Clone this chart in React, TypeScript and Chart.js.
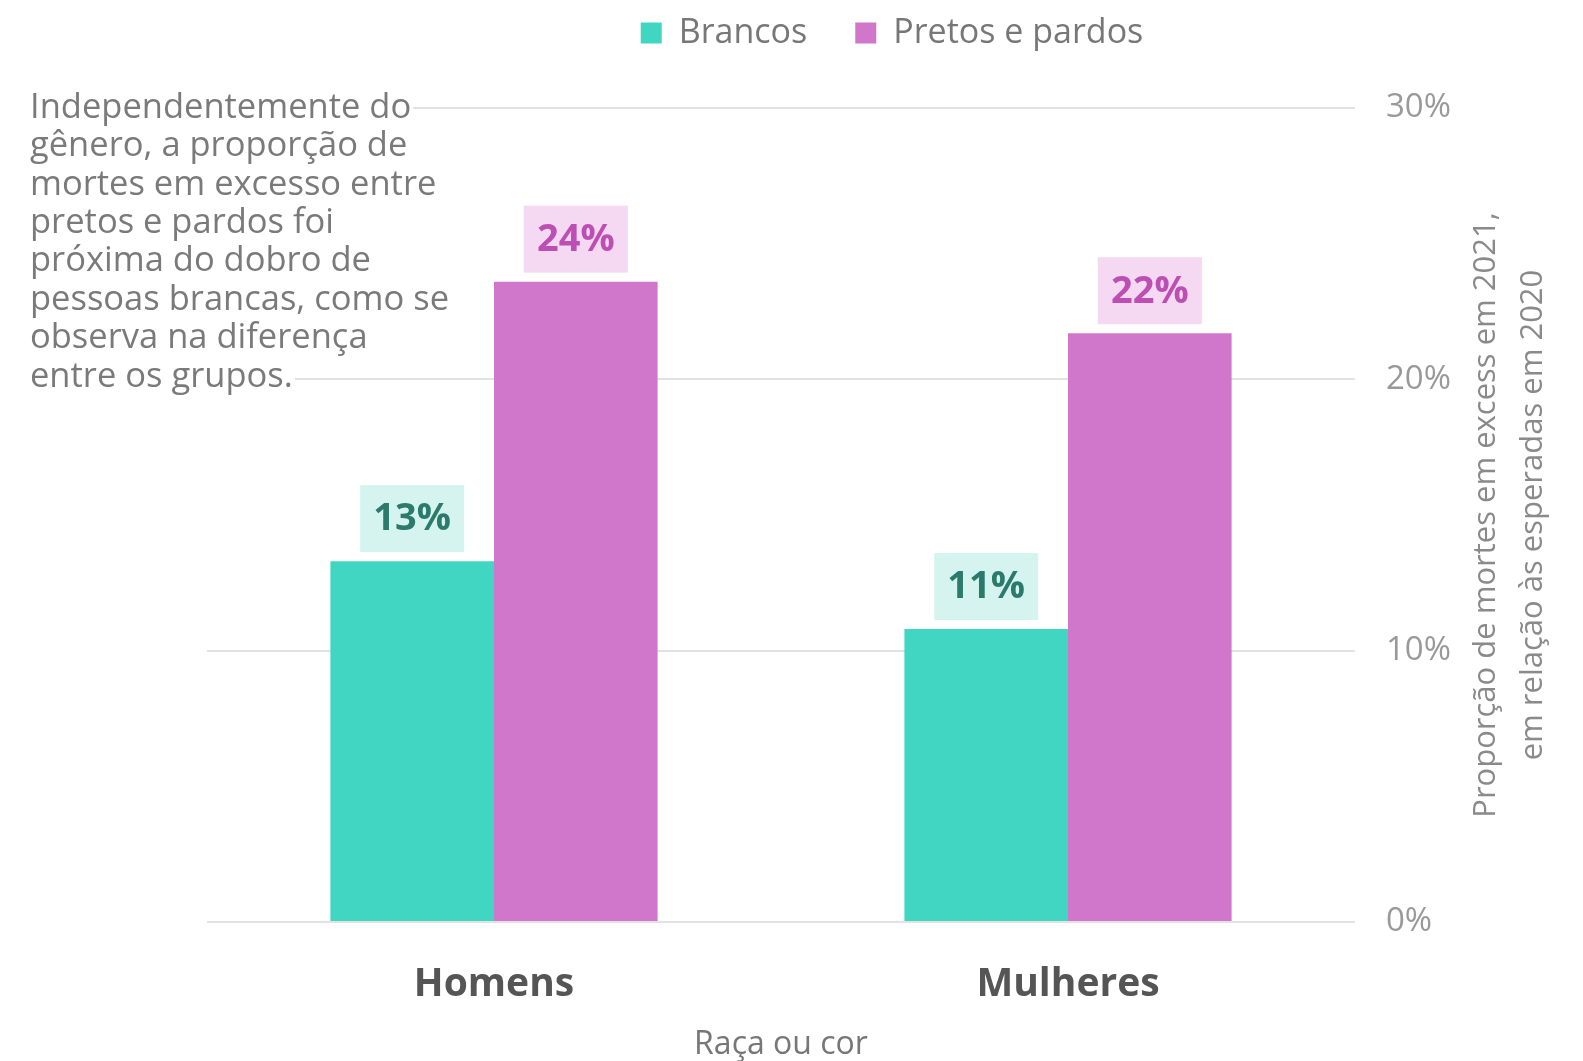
import React, { useEffect, useRef } from "react";
import { Chart, registerables } from "chart.js";

Chart.register(...registerables);

const categories = ["Homens", "Mulheres"];
const seriesNames = ["Brancos", "Pretos e pardos"];
const brancos = [13.3, 10.8];
const pretos = [23.6, 21.7];
const yTickValues = [0, 10, 20, 30];
const annotationLines = [
  "Independentemente do",
  "gênero, a proporção de",
  "mortes em excesso entre",
  "pretos e pardos foi",
  "próxima do dobro de",
  "pessoas brancas, como se",
  "observa na diferença",
  "entre os grupos.",
];
const yTitleLines = [
  "Proporção de mortes em excess em 2021,",
  "em relação às esperadas em 2020",
];
const xTitle = "Raça ou cor";

const W = 1583;
const H = 1061;
const FONT = "'Open Sans', Lato, sans-serif";
const TEAL = "#41D6C1";
const PURPLE = "#D077CB";
const labelStyles = [
  { bg: "#D5F4EF", fg: "#2B7A6B" },
  { bg: "#F5D8F1", fg: "#BD4FB4" },
];

const legendGapPlugin = {
  id: "legendGap",
  beforeInit(chart: any) {
    const lg = chart.legend;
    if (!lg) return;
    const fit = lg.fit.bind(lg);
    lg.fit = () => {
      fit();
      lg.height += 48;
    };
  },
};

const barLabelPlugin = {
  id: "barLabels",
  afterDatasetsDraw(chart: any) {
    const ctx = chart.ctx;
    chart.data.datasets.forEach((ds: any, di: number) => {
      const meta = chart.getDatasetMeta(di);
      meta.data.forEach((el: any, i: number) => {
        const v = ds.data[i];
        const txt = Math.round(v) + "%";
        const w = 104;
        const h = 67;
        const bottom = el.y - 9;
        ctx.save();
        ctx.fillStyle = labelStyles[di].bg;
        ctx.fillRect(el.x - w / 2, bottom - h, w, h);
        ctx.fillStyle = labelStyles[di].fg;
        ctx.font = `bold 38px ${FONT}`;
        ctx.textAlign = "center";
        ctx.textBaseline = "middle";
        ctx.fillText(txt, el.x, bottom - h / 2 + 1);
        ctx.restore();
      });
    });
  },
};

const annotationPlugin = {
  id: "annotationText",
  afterDraw(chart: any) {
    const ctx = chart.ctx;
    const top = chart.chartArea.top;
    ctx.save();
    ctx.font = `34.5px ${FONT}`;
    ctx.textBaseline = "middle";
    ctx.textAlign = "left";
    annotationLines.forEach((line, i) => {
      const y = top + i * 38.4;
      const w = ctx.measureText(line).width;
      ctx.fillStyle = "#ffffff";
      ctx.fillRect(28, y - 18, w + 4, 36);
      ctx.fillStyle = "#7a7a7a";
      ctx.fillText(line, 30, y);
    });
    ctx.restore();
  },
};

const yTitlePlugin = {
  id: "yTitle",
  afterDraw(chart: any) {
    const ctx = chart.ctx;
    const { right, top, bottom } = chart.chartArea;
    const cy = (top + bottom) / 2;
    ctx.save();
    ctx.font = `31px ${FONT}`;
    ctx.fillStyle = "#8a8a8a";
    ctx.textAlign = "center";
    ctx.textBaseline = "middle";
    yTitleLines.forEach((line, i) => {
      ctx.save();
      ctx.translate(right + 131 + i * 47, cy);
      ctx.rotate(-Math.PI / 2);
      ctx.fillText(line, 0, 0);
      ctx.restore();
    });
    ctx.restore();
  },
};

export default function App() {
  const ref = useRef<HTMLCanvasElement>(null);
  useEffect(() => {
    if (!ref.current) return;
    const chart = new Chart(ref.current, {
      type: "bar",
      data: {
        labels: categories,
        datasets: [
          {
            label: seriesNames[0],
            data: brancos,
            backgroundColor: TEAL,
            categoryPercentage: 0.57,
            barPercentage: 1.0,
          },
          {
            label: seriesNames[1],
            data: pretos,
            backgroundColor: PURPLE,
            categoryPercentage: 0.57,
            barPercentage: 1.0,
          },
        ],
      },
      options: {
        responsive: false,
        maintainAspectRatio: false,
        devicePixelRatio: 1,
        animation: false,
        layout: { padding: { left: 207, right: 6, top: -32, bottom: 0 } },
        plugins: {
          legend: {
            position: "top",
            labels: {
              color: "#777",
              font: { family: FONT, size: 34 },
              boxWidth: 21,
              boxHeight: 21,
              padding: 48,
            },
          },
          tooltip: { enabled: false },
        },
        scales: {
          x: {
            grid: { display: false },
            border: { display: false },
            ticks: {
              color: "#555",
              font: { family: FONT, size: 39, weight: "bold" },
              padding: 31,
            },
            title: {
              display: true,
              text: xTitle,
              color: "#777",
              font: { family: FONT, size: 32, lineHeight: 1.0 },
              padding: { top: 0, bottom: 0 },
            },
            afterFit: (s: any) => {
              s.height = 139;
            },
          },
          y: {
            position: "right",
            min: 0,
            max: 30,
            afterBuildTicks: (s: any) => {
              s.ticks = yTickValues.map((v) => ({ value: v }));
            },
            ticks: {
              color: "#999",
              font: { family: FONT, size: 33 },
              padding: 31,
              callback: (v: any) => v + "%",
            },
            grid: {
              color: "#e2e2e2",
              lineWidth: 2,
              drawTicks: false,
            },
            border: { display: false },
            afterFit: (s: any) => {
              s.width = 222;
            },
          },
        },
      } as any,
      plugins: [legendGapPlugin, annotationPlugin, barLabelPlugin, yTitlePlugin],
    });
    return () => chart.destroy();
  }, []);
  return (
    <div style={{ position: "fixed", left: 0, top: 0, width: W, height: H, background: "#fff" }}>
      <canvas ref={ref} width={W} height={H} style={{ display: "block" }} />
    </div>
  );
}
